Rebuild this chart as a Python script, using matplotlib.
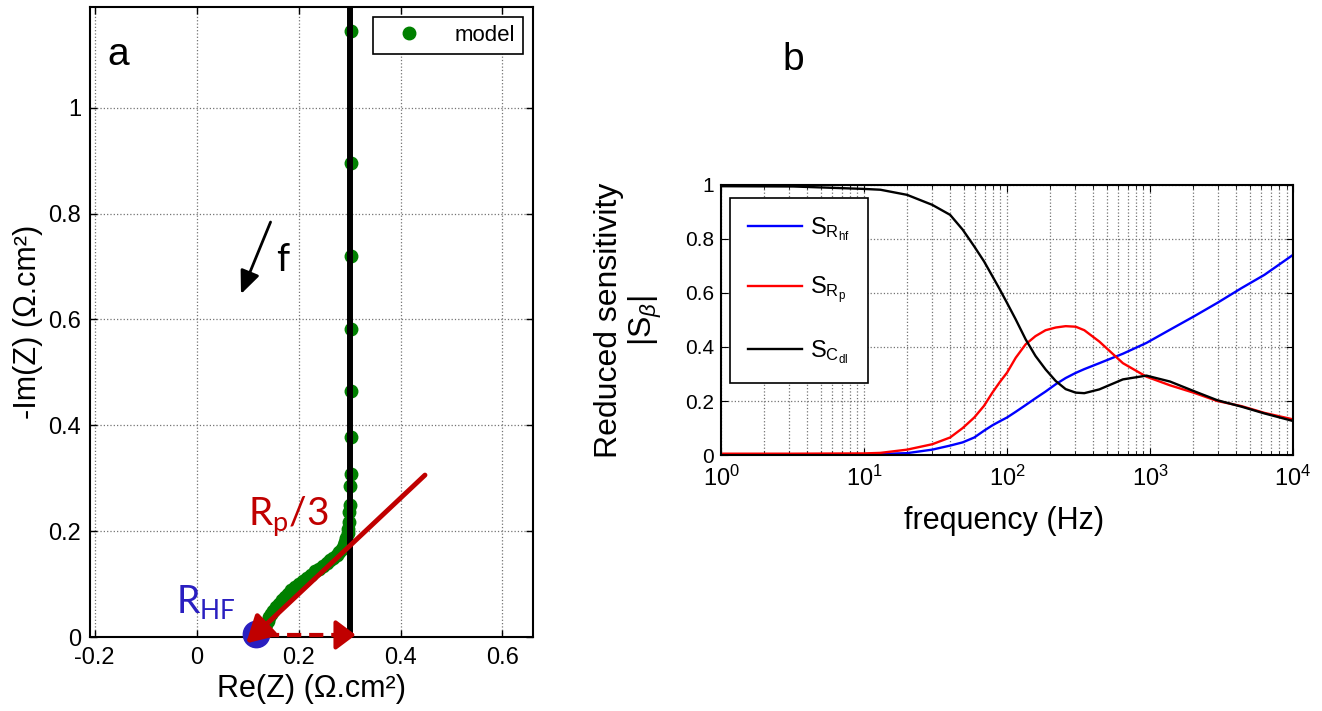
import numpy as np
import matplotlib
matplotlib.use('Agg')
import matplotlib.pyplot as plt

plt.rcParams['font.family'] = ['Liberation Sans', 'DejaVu Sans']
plt.rcParams['mathtext.fontset'] = 'custom'
plt.rcParams['mathtext.rm'] = 'Liberation Sans'
plt.rcParams['mathtext.it'] = 'Liberation Sans:italic'
plt.rcParams['mathtext.sf'] = 'Lato'

# ---- panel a : Nyquist plot of the model ----
model_re = [0.303, 0.303, 0.303, 0.303, 0.303, 0.302, 0.302, 0.301, 0.300, 0.299,
            0.298, 0.297, 0.296, 0.294, 0.292, 0.289, 0.285, 0.280, 0.275, 0.268,
            0.262, 0.255, 0.248, 0.240, 0.232, 0.224, 0.216, 0.208, 0.200, 0.193,
            0.186, 0.180, 0.173, 0.167, 0.161, 0.155, 0.150, 0.146, 0.142, 0.139,
            0.137, 0.135]
model_im = [1.144, 0.896, 0.719, 0.581, 0.465, 0.377, 0.308, 0.286, 0.250, 0.236,
            0.218, 0.205, 0.196, 0.187, 0.180, 0.173, 0.167, 0.161, 0.155, 0.150,
            0.145, 0.140, 0.135, 0.129, 0.124, 0.118, 0.112, 0.106, 0.100, 0.094,
            0.088, 0.082, 0.076, 0.070, 0.063, 0.056, 0.050, 0.044, 0.037, 0.031,
            0.025, 0.020]
r_hf = [0.117, 0.006]
re_limit = 0.3
rp_line_re = [0.448, 0.097]
rp_line_im = [0.306, -0.012]
rp_dash_re = [0.135, 0.290, 0.312]
rp_dash_im = [0.004, 0.004, 0.004]
f_arrow_re = [0.145, 0.087]
f_arrow_im = [0.784, 0.648]

# ---- panel b : reduced sensitivities ----
freq = [1, 3.2, 10, 13, 20, 30, 40, 49, 59, 69, 79, 89, 100, 115, 135, 158, 186,
        219, 257, 302, 347, 442, 646, 944, 1380, 2040, 2950, 4365, 6310, 10000]
s_rhf = [0.002, 0.002, 0.003, 0.004, 0.007, 0.020, 0.035, 0.047, 0.065, 0.090,
         0.110, 0.125, 0.139, 0.160, 0.185, 0.210, 0.235, 0.262, 0.285, 0.304,
         0.318, 0.340, 0.375, 0.415, 0.464, 0.514, 0.563, 0.618, 0.667, 0.741]
s_rp = [0.005, 0.005, 0.006, 0.008, 0.020, 0.040, 0.065, 0.100, 0.139, 0.182,
        0.231, 0.270, 0.305, 0.360, 0.410, 0.440, 0.462, 0.472, 0.477, 0.475,
        0.462, 0.420, 0.340, 0.290, 0.258, 0.230, 0.200, 0.181, 0.156, 0.132]
s_cdl = [0.995, 0.994, 0.985, 0.982, 0.963, 0.926, 0.889, 0.834, 0.772, 0.717,
         0.662, 0.613, 0.563, 0.502, 0.428, 0.367, 0.317, 0.274, 0.244, 0.231,
         0.229, 0.243, 0.280, 0.294, 0.272, 0.236, 0.203, 0.179, 0.154, 0.126]

dark_red = '#C00000'
blue = '#2A1FC0'
green = '#008000'
grid_kw = dict(color='0.45', linestyle=':', linewidth=0.9)

fig = plt.figure(figsize=(13.22, 7.11), dpi=100)

# ---------------- panel a ----------------
ax = fig.add_axes([0.0678, 0.104, 0.3354, 0.886])
ax.plot(model_re, model_im, 'o', color=green, markersize=9, label='model', zorder=3)
ax.axvline(re_limit, color='k', lw=4.3, zorder=4)
ax.plot(r_hf[0], r_hf[1], 'o', color=blue, markersize=19, zorder=5, clip_on=False)
ax.annotate('', xy=(rp_line_re[1], rp_line_im[1]), xytext=(rp_line_re[0], rp_line_im[0]),
            arrowprops=dict(arrowstyle='-|>,head_length=0.8,head_width=0.45', lw=3.5,
                            color=dark_red, shrinkA=0, shrinkB=0, mutation_scale=20,
                            clip_on=False),
            zorder=6, annotation_clip=False)
ax.plot(rp_dash_re[:2], rp_dash_im[:2], color=dark_red, lw=3.0, ls=(0, (3.4, 1.9)),
        zorder=6, clip_on=False)
ax.annotate('', xy=(rp_dash_re[2], rp_dash_im[2]), xytext=(rp_dash_re[1], rp_dash_im[1]),
            arrowprops=dict(arrowstyle='-|>,head_length=0.6,head_width=0.45', lw=3.0,
                            color=dark_red, shrinkA=0, shrinkB=0, mutation_scale=20,
                            clip_on=False),
            zorder=6, annotation_clip=False)
ax.annotate('', xy=(f_arrow_re[1], f_arrow_im[1]), xytext=(f_arrow_re[0], f_arrow_im[0]),
            arrowprops=dict(arrowstyle='-|>,head_length=0.7,head_width=0.3', lw=2,
                            color='k', shrinkA=0, shrinkB=0, mutation_scale=20))
ax.text(0.155, 0.713, 'f', fontsize=27, fontfamily='Lato', va='center')
ax.text(-0.153, 1.10, 'a', fontsize=28, ha='center', va='center')
ax.text(0.10, 0.21, r'$\mathsf{R_p/3}$', fontsize=28, color=dark_red)
ax.text(-0.04, 0.046, r'$\mathsf{R_{HF}}$', fontsize=27, color=blue)

ax.set_xlim(-0.21, 0.66)
ax.set_ylim(0, 1.19)
ax.set_xticks([-0.2, 0, 0.2, 0.4, 0.6])
ax.set_xticklabels(['-0.2', '0', '0.2', '0.4', '0.6'])
ax.set_yticks([0, 0.2, 0.4, 0.6, 0.8, 1])
ax.set_yticklabels(['0', '0.2', '0.4', '0.6', '0.8', '1'])
ax.tick_params(direction='in', top=True, right=True, labelsize=17, length=5, width=1)
ax.tick_params(axis='x', pad=7)
ax.tick_params(axis='y', pad=6)
ax.grid(True, **grid_kw)
ax.set_axisbelow(True)
for s in ax.spines.values():
    s.set_linewidth(1.5)
ax.set_xlabel('Re(Z) (\u03a9.cm\u00b2)', fontsize=22)
ax.set_ylabel('-Im(Z) (\u03a9.cm\u00b2)', fontsize=22)
ax.xaxis.set_label_coords(0.5, -0.058)
ax.yaxis.set_label_coords(-0.105, 0.5)
leg = ax.legend(loc='upper right', bbox_to_anchor=(0.977, 0.984), borderaxespad=0,
                fontsize=16, fancybox=False, framealpha=1, edgecolor='k',
                handlelength=2.5, handletextpad=0.8, borderpad=0.35)
leg.get_frame().set_linewidth(1.2)

# ---------------- panel b ----------------
ax2 = fig.add_axes([0.5454, 0.360, 0.4327, 0.380])
ax2.semilogx(freq, s_rhf, color='b', lw=1.7, label=r'$\mathrm{S_{R_{hf}}}$')
ax2.semilogx(freq, s_rp, color='r', lw=1.7, label=r'$\mathrm{S_{R_{p}}}$')
ax2.semilogx(freq, s_cdl, color='k', lw=1.7, label=r'$\mathrm{S_{C_{dl}}}$')
ax2.set_xlim(1, 1e4)
ax2.set_ylim(0, 1)
ax2.set_xticks([1, 10, 100, 1000, 10000])
ax2.set_xticklabels([r'$\mathrm{10^{%d}}$' % k for k in range(5)])
ax2.set_yticks([0, 0.2, 0.4, 0.6, 0.8, 1])
ax2.set_yticklabels(['0', '0.2', '0.4', '0.6', '0.8', '1'])
ax2.tick_params(which='both', direction='in', top=True, right=True)
ax2.tick_params(axis='y', labelsize=15, pad=5)
ax2.tick_params(axis='x', labelsize=17, pad=8)
ax2.tick_params(which='major', length=5)
ax2.tick_params(which='minor', length=3)
ax2.grid(True, which='both', **grid_kw)
ax2.set_axisbelow(True)
for s in ax2.spines.values():
    s.set_linewidth(1.5)
ax2.set_xlabel('frequency (Hz)', fontsize=22)
ax2.set_ylabel('Reduced sensitivity\n$|\\mathrm{S}_{\\beta}|$', fontsize=23, linespacing=1.1)
ax2.xaxis.set_label_coords(0.495, -0.19)
ax2.yaxis.set_label_coords(-0.10, 0.5)
leg2 = ax2.legend(loc='upper left', bbox_to_anchor=(0.016, 0.952), borderaxespad=0,
                  fontsize=17, fancybox=False, framealpha=1, edgecolor='k',
                  handlelength=2.3, handletextpad=0.35, labelspacing=1.35, borderpad=0.75)
leg2.get_frame().set_linewidth(1.2)
fig.text(0.6, 0.915, 'b', fontsize=28, ha='center', va='center')

fig.savefig('out.png', dpi=100)
